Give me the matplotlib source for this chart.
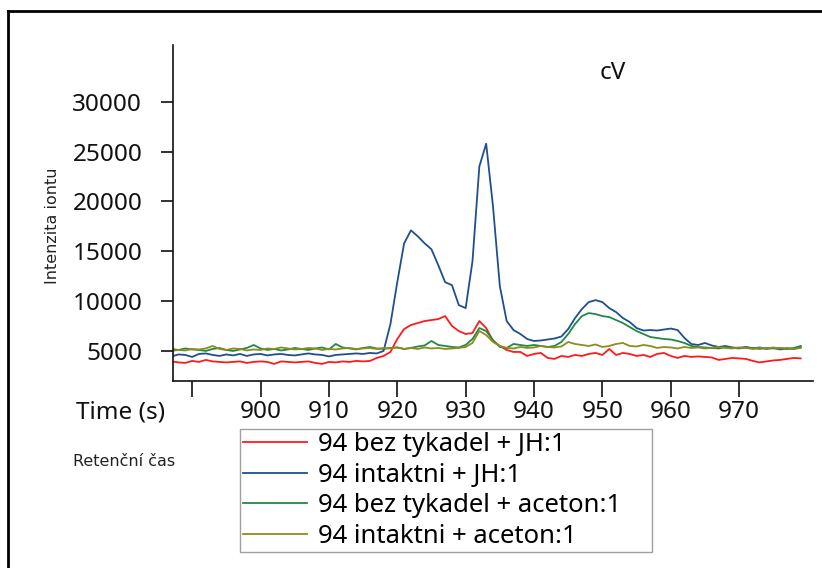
import numpy as np
import matplotlib
matplotlib.use('Agg')
import matplotlib.pyplot as plt
from matplotlib.lines import Line2D

plt.rcParams['font.family'] = ['Noto Sans', 'DejaVu Sans']

# retention time (s), 1 s sampling
times = np.arange(887, 980)

labels = ["94 bez tykadel + JH:1", "94 intaktni + JH:1",
          "94 bez tykadel + aceton:1", "94 intaktni + aceton:1"]

red = [3950, 3850, 3800, 4000, 3900, 4100, 3950, 3900, 3850, 3900,
       3950, 3800, 3900, 3950, 3900, 3700, 3950, 3900, 3850, 3900,
       3950, 3800, 3700, 3900, 3850, 3950, 3900, 4000, 3950, 4000,
       4300, 4500, 4900, 6200, 7200, 7600, 7800, 8000, 8100, 8200,
       8500, 7500, 7000, 6700, 6800, 8000, 7300, 6000, 5500, 5100,
       4900, 4900, 4500, 4700, 4800, 4300, 4200, 4500, 4400, 4600,
       4500, 4700, 4800, 4600, 5200, 4600, 4800, 4700, 4500, 4600,
       4400, 4700, 4800, 4500, 4300, 4500, 4400, 4450, 4400, 4350,
       4100, 4200, 4300, 4250, 4200, 4000, 3850, 3950, 4050, 4100,
       4200, 4300, 4250]

blue = [4450, 4650, 4600, 4400, 4700, 4750, 4600, 4500, 4650, 4550,
        4700, 4500, 4650, 4700, 4550, 4650, 4700, 4600, 4550, 4650,
        4750, 4650, 4600, 4450, 4600, 4650, 4700, 4750, 4700, 4800,
        4750, 5000, 7700, 11900, 15800, 17100, 16500, 15800, 15200, 13600,
        11900, 11600, 9600, 9300, 14000, 23500, 25800, 19500, 11500, 8000,
        7100, 6700, 6200, 6000, 6050, 6150, 6250, 6450, 7200, 8300,
        9200, 9900, 10100, 9900, 9300, 8900, 8300, 7900, 7300, 7050,
        7100, 7050, 7150, 7250, 7100, 6300, 5700, 5600, 5800, 5550,
        5400, 5500, 5350, 5300, 5400, 5250, 5350, 5200, 5300, 5150,
        5250, 5200, 5400]

green = [5200, 5100, 5250, 5150, 5100, 5000, 5200, 5300, 5100, 5000,
         5150, 5300, 5600, 5250, 5100, 5200, 5050, 5150, 5300, 5200,
         5100, 5250, 5350, 5150, 5700, 5350, 5250, 5150, 5300, 5400,
         5250, 5200, 5300, 5350, 5200, 5300, 5450, 5550, 6000, 5600,
         5500, 5400, 5350, 5600, 6200, 7300, 7000, 6100, 5400, 5300,
         5700, 5600, 5500, 5600, 5500, 5400, 5500, 5900, 6700, 7700,
         8500, 8800, 8700, 8500, 8400, 8100, 7800, 7400, 7000, 6700,
         6400, 6300, 6200, 6150, 6000, 5800, 5500, 5400, 5350, 5300,
         5250, 5400, 5300, 5250, 5350, 5300, 5200, 5300, 5250, 5300,
         5200, 5300, 5500]

olive = [5000, 5100, 5050, 5200, 5150, 5250, 5500, 5200, 5100, 5250,
         5200, 5050, 5150, 5100, 5250, 5200, 5350, 5250, 5150, 5200,
         5300, 5250, 5100, 5200, 5150, 5250, 5300, 5200, 5250, 5300,
         5200, 5300, 5250, 5350, 5200, 5300, 5200, 5350, 5250, 5300,
         5200, 5250, 5300, 5400, 5800, 7000, 6600, 5900, 5500, 5300,
         5250, 5400, 5300, 5350, 5500, 5400, 5350, 5450, 5900, 5700,
         5600, 5500, 5650, 5400, 5500, 5700, 5800, 5500, 5450, 5600,
         5500, 5300, 5400, 5350, 5250, 5400, 5300, 5350, 5250, 5300,
         5400, 5300, 5250, 5350, 5300, 5200, 5300, 5250, 5350, 5250,
         5300, 5200, 5300]

xticks = [890, 900, 910, 920, 930, 940, 950, 960, 970]
xticklabels = ["", "900", "910", "920", "930", "940", "950", "960", "970"]
yticks = [5000, 10000, 15000, 20000, 25000, 30000]

colors = ["#ff1a1a", "#1f4f8f", "#1f8a45", "#8f8c1c"]

W, H = 822, 568
fig = plt.figure(figsize=(W / 100, H / 100), dpi=100)
ax = fig.add_axes([173 / W, 1 - 381 / H, (813 - 173) / W, (381 - 45) / H])

for ys, c, lab in zip([red, blue, green, olive], colors, labels):
    ax.plot(times, ys, color=c, lw=1.3, label=lab)

ax.set_xlim(887.2, 980.8)
ax.set_ylim(1985, 35700)
for s in ['top', 'right']:
    ax.spines[s].set_visible(False)
for s in ['left', 'bottom']:
    ax.spines[s].set_linewidth(1.2)
    ax.spines[s].set_color('#111111')

ax.set_xticks(xticks)
ax.set_xticklabels(xticklabels)
ax.set_yticks(yticks)
ax.set_yticklabels([str(v) for v in yticks])
ax.tick_params(axis='y', direction='out', length=8.6, width=1.2,
               pad=13.5, labelsize=17.5, colors='#111111')
ax.tick_params(axis='x', direction='out', length=11.5, width=1.2,
               pad=2, labelsize=17.5, colors='#111111')

fig.text(121 / W, 1 - 412 / H, "Time (s)", fontsize=17.5,
         ha='center', va='center', color='#111111')
fig.text(52 / W, 1 - 226 / H, "Intenzita iontu", fontsize=11.5,
         rotation=90, ha='center', va='center', color='#222222',
         family=['DejaVu Sans'])
fig.text(73 / W, 1 - 461 / H, "Retenční čas", fontsize=11.5,
         ha='left', va='center', color='#222222', family=['DejaVu Sans'])
fig.text(613 / W, 1 - 73 / H, "cV", fontsize=17.5,
         ha='center', va='center', color='#111111')

leg = ax.legend(loc='upper left',
                bbox_to_anchor=(240 / W, 1 - 551 / H, 412 / W, 122 / H),
                bbox_transform=fig.transFigure, mode='expand', fontsize=18.5,
                frameon=True, fancybox=False, framealpha=1,
                edgecolor='#a0a0a0', handlelength=2.5, handletextpad=0.4,
                labelspacing=0.22, borderpad=0.12, borderaxespad=0)
leg.get_frame().set_linewidth(1.0)
for line in leg.get_lines():
    line.set_linewidth(1.3)

# outer frame (left and top edges visible)
fig.add_artist(Line2D([8 / W, 8 / W], [0, 1 - 10.5 / H],
                      transform=fig.transFigure, color='black', lw=2))
fig.add_artist(Line2D([8 / W, 1], [1 - 10.5 / H, 1 - 10.5 / H],
                      transform=fig.transFigure, color='black', lw=2))

fig.savefig("out.png", dpi=100)
